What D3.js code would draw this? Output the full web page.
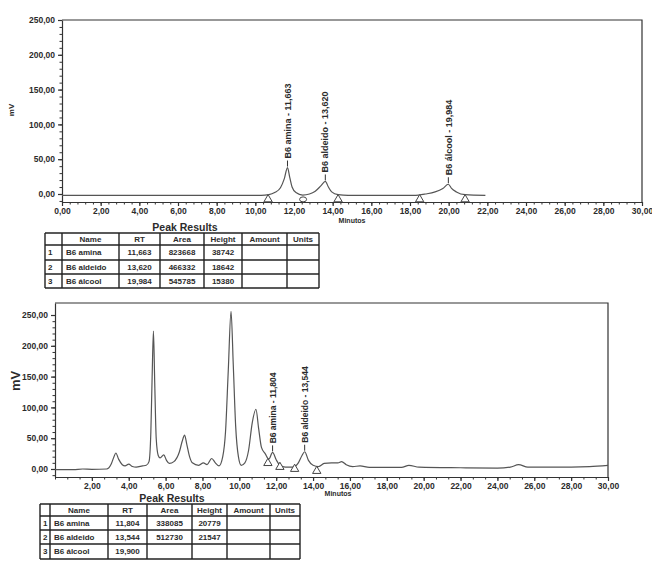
<!DOCTYPE html>
<html lang="en">
<head>
<meta charset="UTF-8">
<script src="https://d3js.org/d3.v7.min.js"></script>
<title>Cromatogramas B6</title>
<style>
  body { margin: 0; background: #fff; }
  svg text { font-family: "Liberation Sans", Arial, sans-serif; fill: #2b2b2b; }
</style>
</head>
<body>
<svg id="chart" width="652" height="563"></svg>
<script>
// ---- values ----
const minuteTicks = d3.range(0, 31, 2);      // 0,00 ... 30,00
const mvTicks = [0, 50, 100, 150, 200, 250];

// standard (top) trace: [minutes, mV]
const stdTrace = [[0,-2],[10.3,-2],[10.7,-1],[11.0,2],[11.3,9],[11.5,22],[11.663,38],[11.78,24],
  [11.9,10],[12.1,2],[12.45,-1.5],[12.8,0],[13.1,4],[13.4,12],[13.62,18],[13.78,10],[13.95,3],
  [14.28,-1],[14.8,-2],[18.2,-2],[18.8,0],[19.3,3],[19.7,8],[19.984,14],[20.15,8],[20.4,3],
  [20.85,-1],[21.9,-2]];
const stdPeakNames = ['B6 amina', 'B6 aldeido', 'B6 álcool'];
const stdPeakRT = [11.663, 13.620, 19.984];
const stdPeakTop = [38, 18, 14];
const stdMarkT = [10.66, 14.28, 18.5, 20.85];
const stdMarkV = [-2, -2, -2, -2];
const stdJoinT = [12.47];
const stdJoinV = [-2];

// sample (bottom) trace: [minutes, mV]
const smpTrace = [[0,-1],[1.0,-1],[1.5,0],[2.0,-0.5],[2.8,0],[3.05,8],[3.2,20],[3.3,26],[3.45,16],
  [3.65,7],[3.8,5],[4.0,8],[4.2,4],[4.4,3],[4.75,5],[4.95,6],[5.1,12],[5.2,60],[5.27,150],[5.34,224],
  [5.41,140],[5.49,50],[5.6,22],[5.7,18],[5.9,23],[6.05,14],[6.2,9],[6.45,12],[6.75,28],[6.9,45],
  [7.03,55],[7.15,40],[7.3,20],[7.45,10],[7.8,6],[8.05,10],[8.25,7],[8.5,17],[8.7,10],[8.9,5],
  [9.1,20],[9.25,60],[9.4,160],[9.55,256],[9.67,170],[9.8,70],[9.95,20],[10.1,6],[10.3,10],
  [10.5,30],[10.7,75],[10.9,97],[11.05,65],[11.2,35],[11.4,25],[11.6,16],[11.804,27],[12.0,15],
  [12.2,6],[12.5,3],[12.9,3],[13.2,10],[13.4,22],[13.544,28],[13.75,14],[14.0,6],[14.3,4],[14.6,9],
  [15.0,10],[15.35,10],[15.55,12],[15.8,7],[16.15,4],[16.55,5],[17.05,2.5],[18.8,2.5],[19.2,6],
  [19.75,3],[22,2],[24.0,1.5],[24.7,3],[25.15,7],[25.65,3],[27,3],[29,4],[30,6]];
const smpPeakNames = ['B6 amina', 'B6 aldeido'];
const smpPeakRT = [11.804, 13.544];
const smpPeakTop = [27, 28];
const smpMarkT = [11.55, 12.2, 13.0, 14.2];
const smpMarkV = [16, 9.7, 6.5, 3.2];

// peak results tables
const tableHead = ['', 'Name', 'RT', 'Area', 'Height', 'Amount', 'Units'];
const tabNames = ['B6 amina', 'B6 aldeido', 'B6 álcool'];
const stdRT = ['11,663', '13,620', '19,984'];
const stdArea = ['823668', '466332', '545785'];
const stdHeight = ['38742', '18642', '15380'];
const smpRT = ['11,804', '13,544', '19,900'];
const smpArea = ['338085', '512730', ''];
const smpHeight = ['20779', '21547', ''];

// ---- drawing ----
const br = d3.formatLocale({decimal: ',', thousands: '.', grouping: [3], currency: ['', '']});
const f2 = br.format('.2f'), f3 = br.format('.3f');
const svg = d3.select('#chart');

function drawChron(o) {
  const x = d3.scaleLinear().domain([0, 30]).range([o.left, o.right]);
  const y = d3.scaleLinear().domain(o.ydom).range([o.bottom, o.top]);
  const g = svg.append('g');

  // frame: top and right borders
  g.append('path')
    .attr('d', `M${o.left},${o.top}H${o.right}V${o.bottom}`)
    .attr('fill', 'none').attr('stroke', '#333').attr('stroke-width', 1.2);

  // minor ticks
  g.append('g').attr('transform', `translate(${o.left},0)`)
    .call(d3.axisLeft(y).tickValues(d3.range(-10, 251, 10)).tickSize(2.5).tickFormat(''))
    .call(a => a.select('.domain').remove());
  g.append('g').attr('transform', `translate(0,${o.bottom})`)
    .call(d3.axisBottom(x).tickValues(d3.range(0, 30.01, o.minorStep)).tickSize(2.5).tickFormat(''))
    .call(a => a.select('.domain').remove());

  // major axes
  const ya = g.append('g').attr('transform', `translate(${o.left},0)`)
    .call(d3.axisLeft(y).tickValues(mvTicks).tickSize(4).tickPadding(3).tickFormat(f2).tickSizeOuter(0));
  const xa = g.append('g').attr('transform', `translate(0,${o.bottom})`)
    .call(d3.axisBottom(x).tickValues(o.xticks).tickSize(4).tickPadding(1.5).tickFormat(f2).tickSizeOuter(0));
  [ya, xa].forEach(a => {
    a.selectAll('text').attr('font-size', 8.5).attr('font-weight', 'bold').attr('fill', '#2b2b2b')
      .style('font-family', '"Liberation Sans", Arial, sans-serif');
    a.selectAll('line,path').attr('stroke', '#333').attr('stroke-width', 1.2);
  });
  g.selectAll('.tick line').attr('stroke', '#333');

  // axis titles
  g.append('text').attr('transform', `translate(${o.yLabX},${o.yLabY}) rotate(-90)`)
    .attr('text-anchor', 'middle').attr('font-size', o.yLabSize).attr('font-weight', 'bold').text('mV');
  g.append('text').attr('x', o.xLabX).attr('y', o.xLabY)
    .attr('text-anchor', 'middle').attr('font-size', 7).attr('font-weight', 'bold').text('Minutos');

  // trace
  g.append('path').datum(o.trace)
    .attr('d', d3.line().x(d => x(d[0])).y(d => y(d[1])).curve(d3.curveMonotoneX))
    .attr('fill', 'none').attr('stroke', '#555').attr('stroke-width', 1.2);

  // peak start/end markers
  const tri = d3.symbol().type(d3.symbolTriangle).size(30);
  g.selectAll('.mk').data(o.markT).join('path')
    .attr('transform', (t, i) => `translate(${x(t)},${y(o.markV[i]) + 4})`)
    .attr('d', tri).attr('fill', '#fff').attr('stroke', '#444').attr('stroke-width', 1);
  if (o.joinT) {
    g.selectAll('.jn').data(o.joinT).join('ellipse')
      .attr('cx', t => x(t)).attr('cy', (t, i) => y(o.joinV[i]) + 4)
      .attr('rx', 3.5).attr('ry', 2.5).attr('fill', '#fff').attr('stroke', '#444');
  }

  // peak labels
  const lab = g.selectAll('.pl').data(o.peakRT).join('g')
    .attr('transform', (t, i) => `translate(${x(t)},${y(o.peakTop[i]) - 1})`);
  lab.append('line').attr('y1', 0).attr('y2', -6).attr('stroke', '#333').attr('stroke-width', 1);
  lab.append('text').attr('transform', 'rotate(-90)').attr('x', 8).attr('dy', '0.35em')
    .attr('font-size', o.peakSize).attr('font-weight', 'bold')
    .text((t, i) => `${o.peakNames[i]} - ${f3(t)}`);
}

function drawTable(o) {
  const g = svg.append('g');
  const c = o.cols, r = o.rows;
  g.append('text').attr('x', o.titleX).attr('y', r[0] - 2.5).attr('text-anchor', 'middle')
    .attr('font-size', 10.5).attr('font-weight', 'bold').text('Peak Results');
  const cells = [tableHead].concat(tabNames.map((n, i) =>
    [String(i + 1), n, o.rt[i], o.area[i], o.height[i], '', '']));
  // grid
  r.forEach(yy => g.append('line').attr('x1', c[0]).attr('x2', c[c.length - 1])
    .attr('y1', yy).attr('y2', yy).attr('stroke', '#222').attr('stroke-width', 1.4));
  c.forEach(xx => g.append('line').attr('x1', xx).attr('x2', xx)
    .attr('y1', r[0]).attr('y2', r[r.length - 1]).attr('stroke', '#222').attr('stroke-width', 1.4));
  cells.forEach((row, ri) => row.forEach((txt, ci) => {
    if (!txt) return;
    const left = ci === 1 && ri > 0;
    g.append('text')
      .attr('x', left ? c[ci] + 4 : (ci === 0 ? c[0] + 3 : (c[ci] + c[ci + 1]) / 2))
      .attr('y', (r[ri] + r[ri + 1]) / 2).attr('dy', '0.35em')
      .attr('text-anchor', left || ci === 0 ? 'start' : 'middle')
      .attr('font-size', 8).attr('font-weight', 'bold').text(txt);
  }));
}

drawChron({left: 62, right: 642, top: 20, bottom: 202, ydom: [-11.5, 250],
  xticks: minuteTicks, minorStep: 0.4, trace: stdTrace,
  markT: stdMarkT, markV: stdMarkV, joinT: stdJoinT, joinV: stdJoinV,
  peakNames: stdPeakNames, peakRT: stdPeakRT, peakTop: stdPeakTop, peakSize: 9,
  yLabX: 14, yLabY: 110, yLabSize: 8, xLabX: 352, xLabY: 223});

drawTable({cols: [45, 62, 119, 160, 204, 242, 287, 319], rows: [233, 245, 260, 274, 288],
  titleX: 185, rt: stdRT, area: stdArea, height: stdHeight});

drawChron({left: 55, right: 608, top: 303, bottom: 477, ydom: [-13, 269.5],
  xticks: minuteTicks.slice(1), minorStep: 2 / 3, trace: smpTrace,
  markT: smpMarkT, markV: smpMarkV,
  peakNames: smpPeakNames, peakRT: smpPeakRT, peakTop: smpPeakTop, peakSize: 8.5,
  yLabX: 20, yLabY: 381, yLabSize: 13, xLabX: 338, xLabY: 496});

drawTable({cols: [40, 50, 108, 147, 192, 227, 270, 300], rows: [504, 516, 530, 544, 559],
  titleX: 172, rt: smpRT, area: smpArea, height: smpHeight});
</script>
</body>
</html>
